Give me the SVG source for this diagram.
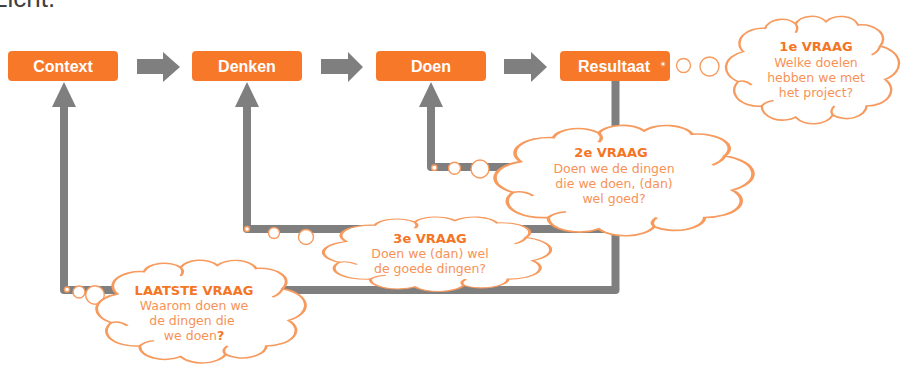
<svg xmlns="http://www.w3.org/2000/svg" xmlns:xlink="http://www.w3.org/1999/xlink" width="906" height="365" viewBox="0 0 906 365">
<style>
.box{fill:#F8782A}
.lbl{font-family:"Liberation Sans",Arial,sans-serif;font-weight:bold;font-size:16px;fill:#fff;text-anchor:middle}
.conn{stroke:#7F7F7F;stroke-width:8;fill:none;stroke-linejoin:round}
.ah{fill:#7F7F7F}
.cloud{fill:#fff;stroke:#F79A5E;stroke-width:1.4;vector-effect:non-scaling-stroke}
.curl{fill:none;stroke:#F79A5E;stroke-width:1.4;vector-effect:non-scaling-stroke}
.bub{fill:#fff;stroke:#F79A5E;stroke-width:1.4}
.qt{font-family:"DejaVu Sans",Verdana,sans-serif;font-weight:bold;font-size:13px;fill:#F47524;text-anchor:middle}
.qb{font-family:"DejaVu Sans",Verdana,sans-serif;font-size:12.5px;fill:#F79256;text-anchor:middle}
.hdr{font-family:"Liberation Sans",Arial,sans-serif;font-size:26px;fill:#3F3F3F}
</style>
<defs>
<path id="cloudShape" d="M9,33 A13.6,13.6 0 0 1 22,12 A10.1,10.1 0 0 1 40,8 A10,10 0 0 1 58,6 A10.6,10.6 0 0 1 77,9 A12.7,12.7 0 0 1 90,28 A16.6,16.6 0 0 1 93,58 A14.5,14.5 0 0 1 82,82 A11.8,11.8 0 0 1 62,90 A12.2,12.2 0 0 1 40,92 A12.3,12.3 0 0 1 20,82 A14.3,14.3 0 0 1 6,60 A15,15 0 0 1 9,33 Z"/>
<path id="cloudCurls" d="M6,60 Q10,58 14,63 M90,28 Q89,33 85,36 M62,90 Q60,86 63,82 M40,8 Q42,12 40,16 M20,82 Q22,78 27,77"/>
</defs>

<text class="hdr" x="-7" y="7">Licht.</text>

<g id="connectors">
  <polygon class="ah" points="137,59 163,59 163,52 180,67 163,82 163,74 137,74"/>
  <polygon class="ah" points="321,59 348,59 348,52 363,67 348,82 348,74 321,74"/>
  <polygon class="ah" points="504,59 531,59 531,52 547,67 531,82 531,74 504,74"/>
  <path class="conn" d="M615.5,81 V290 H64 V105"/>
  <path class="conn" d="M615.5,229 H247 V105"/>
  <path class="conn" d="M615.5,167 H431 V105"/>
  <polygon class="ah" points="52,107 64,82 76,107"/>
  <polygon class="ah" points="235,107 247,82 259,107"/>
  <polygon class="ah" points="419,107 431,82 443,107"/>
</g>

<g id="context">
  <rect class="box" x="8" y="51" width="110" height="30" rx="4"/>
  <text class="lbl" x="63" y="72">Context</text>
</g>
<g id="denken">
  <rect class="box" x="192" y="51" width="110" height="30" rx="4"/>
  <text class="lbl" x="247" y="72">Denken</text>
</g>
<g id="doen">
  <rect class="box" x="376" y="51" width="110" height="30" rx="4"/>
  <text class="lbl" x="431" y="72">Doen</text>
</g>
<g id="resultaat">
  <rect class="box" x="560" y="51" width="110" height="30" rx="4"/>
  <text class="lbl" x="614" y="72">Resultaat</text>
</g>

<g id="vraag1">
  <circle class="bub" cx="663" cy="64" r="2"/>
  <circle class="bub" cx="683.5" cy="65.5" r="7"/>
  <circle class="bub" cx="709.5" cy="66.5" r="9.5"/>
  <g transform="translate(728,15) scale(1.69,1.11)">
    <use xlink:href="#cloudShape" class="cloud"/>
    <use xlink:href="#cloudCurls" class="curl"/>
  </g>
  <text class="qt" x="816" y="51">1e VRAAG</text>
  <text class="qb" x="816" y="67">Welke doelen</text>
  <text class="qb" x="816" y="82">hebben we met</text>
  <text class="qb" x="816" y="97">het project?</text>
</g>

<g id="vraag2">
  <circle class="bub" cx="434.3" cy="167.7" r="2.7"/>
  <circle class="bub" cx="454.5" cy="168.3" r="6"/>
  <circle class="bub" cx="480" cy="169" r="9"/>
  <g transform="translate(498,124) scale(2.52,1.14)">
    <use xlink:href="#cloudShape" class="cloud"/>
    <use xlink:href="#cloudCurls" class="curl"/>
  </g>
  <text class="qt" x="611" y="157">2e VRAAG</text>
  <text class="qb" x="614" y="173">Doen we de dingen</text>
  <text class="qb" x="614" y="188">die we doen, (dan)</text>
  <text class="qb" x="614" y="203">wel goed?</text>
</g>

<g id="vraag3">
  <circle class="bub" cx="247" cy="229" r="2.5"/>
  <circle class="bub" cx="274" cy="233" r="5.5"/>
  <circle class="bub" cx="306" cy="237" r="7.5"/>
  <g transform="translate(326,216) scale(2.22,0.77)">
    <use xlink:href="#cloudShape" class="cloud"/>
    <use xlink:href="#cloudCurls" class="curl"/>
  </g>
  <text class="qt" x="430" y="243">3e VRAAG</text>
  <text class="qb" x="430" y="258">Doen we (dan) wel</text>
  <text class="qb" x="430" y="273">de goede dingen?</text>
</g>

<g id="laatste-vraag">
  <circle class="bub" cx="67" cy="289.5" r="2.5"/>
  <circle class="bub" cx="79" cy="292" r="6"/>
  <circle class="bub" cx="95" cy="295" r="9.3"/>
  <g transform="translate(99,259) scale(2.04,1.06)">
    <use xlink:href="#cloudShape" class="cloud"/>
    <use xlink:href="#cloudCurls" class="curl"/>
  </g>
  <text class="qt" x="194" y="295">LAATSTE VRAAG</text>
  <text class="qb" x="194" y="310">Waarom doen we</text>
  <text class="qb" x="192" y="325">de dingen die</text>
  <text class="qb" x="194" y="340">we doen<tspan font-weight="bold" fill="#F47524">?</tspan></text>
</g>
</svg>
